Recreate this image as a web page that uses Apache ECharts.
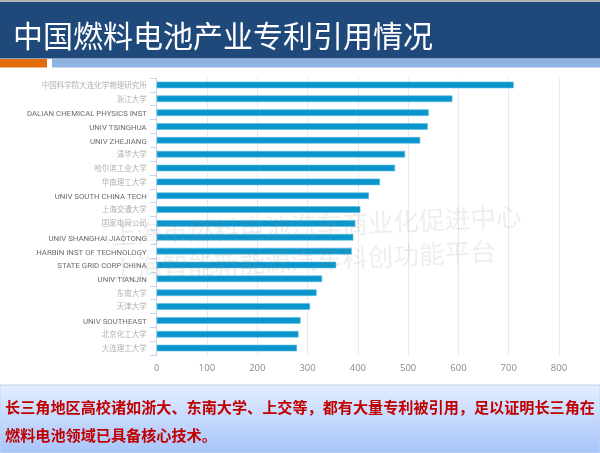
<!DOCTYPE html>
<html><head><meta charset="utf-8">
<style>html,body{margin:0;padding:0;background:#fff}#c{width:600px;height:453px}</style>
<script src="https://cdn.jsdelivr.net/npm/echarts@6/dist/echarts.min.js"></script>
</head><body><div id="c"></div>
<script>
const categories = ["中国科学院大连化学物理研究所","浙江大学","DALIAN CHEMICAL PHYSICS INST","UNIV TSINGHUA","UNIV ZHEJIANG","清华大学","哈尔滨工业大学","华南理工大学","UNIV SOUTH CHINA TECH","上海交通大学","国家电网公司","UNIV SHANGHAI JIAOTONG","HARBIN INST OF TECHNOLOGY","STATE GRID CORP CHINA","UNIV TIANJIN","东南大学","天津大学","UNIV SOUTHEAST","北京化工大学","大连理工大学"];
const citations = [710,588,541,539,524,494,474,444,422,405,395,391,388,357,329,318,305,286,282,279];
const xTicks = [0,100,200,300,400,500,600,700,800];
const titleText = "中国燃料电池产业专利引用情况";
const noteLines = ["长三角地区高校诸如浙大、东南大学、上交等，都有大量专利被引用，足以证明长三角在","燃料电池领域已具备核心技术。"];
const watermarks = ["上海市燃料电池汽车商业化促进中心","上海智能新能源汽车科创功能平台"];
const cjk = '"Noto Sans CJK SC","Noto Sans",sans-serif';
const chart = echarts.init(document.getElementById('c'),null,{renderer:'canvas'});
const wm = (text,y)=>({type:'text',z:10,silent:true,x:111,y:y,rotation:0.047,
  style:{text:text,fill:'rgba(140,140,140,0.15)',font:'25.7px '+cjk,textVerticalAlign:'middle'}});
chart.setOption({
  animation:false,
  backgroundColor:'#fff',
  grid:{left:156.7,right:41,top:78,bottom:98,containLabel:false},
  xAxis:{type:'value',min:0,max:800,interval:100,
    axisLine:{show:false},axisTick:{show:false},
    splitLine:{show:true,lineStyle:{color:'#e8eaee',width:1}},
    axisLabel:{color:'#8a8a8a',fontSize:9.5,fontFamily:'"Open Sans",sans-serif',margin:8,
      formatter:v=>xTicks.includes(v)?String(v):''}},
  yAxis:{type:'category',inverse:true,data:categories,
    axisLine:{show:true,lineStyle:{color:'#c5d3ee',width:1}},
    axisTick:{show:true,length:6.5,lineStyle:{color:'#c5d3ee',width:1}},
    axisLabel:{interval:0,margin:10,
      formatter:v=>/[A-Z]/.test(v)?'{en|'+v+'}':'{zh|'+v+'}',
      rich:{
        en:{fontSize:7.8,fontFamily:'Roboto,sans-serif',color:'#6a6a6a',padding:[3,0,0,0]},
        zh:{fontSize:7.5,fontFamily:cjk,color:'#b0b0b0'}
      }}},
  series:[{type:'bar',data:citations,barWidth:6.6,silent:true,z:3,
    itemStyle:{color:'#0a96cc',borderColor:'#5cbde3',borderWidth:0.6}}],
  graphic:{elements:[
    {type:'rect',z:0,silent:true,shape:{x:0,y:0,width:600,height:2},style:{fill:'#b4b4b4'}},
    {type:'rect',z:0,silent:true,shape:{x:0,y:2,width:600,height:56.5},style:{fill:'#1f487b'}},
    {type:'rect',z:0,silent:true,shape:{x:0,y:59,width:47,height:8.5},style:{fill:'#e36c0a'}},
    {type:'rect',z:0,silent:true,shape:{x:52,y:59,width:548,height:8.5},style:{fill:'#8cb3e3'}},
    {type:'text',z:1,silent:true,left:13,top:21,style:{text:titleText,fill:'#fff',font:'30px '+cjk}},
    wm(watermarks[0],235),
    wm(watermarks[1],269),
    {type:'rect',z:0,silent:true,shape:{x:0,y:385,width:600,height:68},
      style:{fill:new echarts.graphic.LinearGradient(0,0,0,1,[{offset:0,color:'#e3edff'},{offset:1,color:'#a7c5fb'}]),stroke:'#c3d2e8',lineWidth:1}},
    {type:'text',z:1,silent:true,left:5,top:400,style:{text:noteLines[0],fill:'#c00000',font:'bold 15.13px '+cjk}},
    {type:'text',z:1,silent:true,left:5,top:428,style:{text:noteLines[1],fill:'#c00000',font:'bold 15.13px '+cjk}}
  ]}
});
</script></body></html>
